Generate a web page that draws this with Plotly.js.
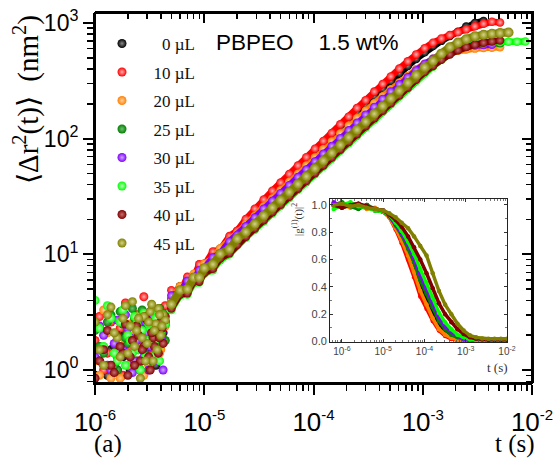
<!DOCTYPE html>
<html><head><meta charset="utf-8">
<script src="https://cdn.plot.ly/plotly-3.0.1.min.js"></script>
<style>html,body{margin:0;padding:0;background:#fff}#chart{width:553px;height:459px}</style>
</head><body><div id="chart"></div>
<script>
// ---------- DATA ----------
const seriesNames = ['\u00a0\u00a00 \u00b5L','10 \u00b5L','20 \u00b5L','25 \u00b5L','30 \u00b5L','35 \u00b5L','40 \u00b5L','45 \u00b5L'];
const seriesColors = ['#000000','#ff0000','#ff8000','#007f00','#8000ff','#00ff00','#800000','#808000'];
const seriesHighlights = ['#8a8a8a','#ffb0b0','#ffd0a0','#70c070','#d0a8ff','#b8ffb8','#c87070','#d4d488'];

// MSD: early noisy lag times (s)
const t_noise = [1.0e-6,1.2e-6,1.4e-6,1.6e-6,1.8e-6,2.0e-6,2.2e-6,2.4e-6,2.6e-6,2.8e-6,3.0e-6,3.2e-6,3.4e-6,3.6e-6,3.8e-6,4.0e-6,4.2e-6,4.4e-6,
                 1.1e-6,1.3e-6,1.5e-6,1.7e-6,1.9e-6,2.1e-6,2.3e-6,2.5e-6,2.7e-6,2.9e-6,3.1e-6,3.3e-6,3.5e-6,3.7e-6,3.9e-6,4.1e-6];
const msd_noise_0  = [0.9,1.1,1.5,1.0,1.3,1.8,1.2,1.6,1.0,2.0,1.4,1.7,2.2,1.1,1.9,2.4,2.1,2.6, 1.2,0.9,1.6,1.3,2.1,1.0,1.5,1.8,1.2,2.3,1.6,1.9,1.4,2.5,2.0,2.8];
const msd_noise_10 = [1.8,1.0,2.6,1.3,0.9,2.1,1.5,3.0,1.2,4.3,1.7,2.4,1.4,2.9,1.9,3.3,2.3,3.6, 2.9,1.4,1.1,2.3,3.8,1.6,2.0,1.2,2.6,1.8,3.1,2.2,1.5,2.7,3.4,2.5];
const msd_noise_20 = [1.2,3.3,0.85,1.9,2.7,1.1,2.2,1.5,3.0,0.9,2.0,1.3,2.6,1.7,3.1,1.5,2.8,2.4, 0.9,2.1,1.4,0.85,1.8,2.5,1.2,2.0,1.6,2.9,1.1,2.3,1.9,2.6,1.4,3.0];
const msd_noise_25 = [2.2,1.4,3.0,1.0,2.5,1.7,3.4,1.2,2.1,2.9,1.6,3.2,2.4,1.3,2.7,2.0,3.1,1.8, 1.6,2.6,1.1,3.2,1.9,1.3,2.8,1.5,3.3,1.8,2.4,1.2,2.9,2.1,3.4,1.9];
const msd_noise_30 = [1.3,2.0,1.0,2.7,1.5,2.3,0.95,1.8,2.6,1.3,2.1,1.6,2.9,1.2,2.4,1.9,1.0,2.5, 2.4,1.1,1.7,1.3,3.0,1.9,1.2,2.2,1.5,2.6,1.0,1.9,2.3,1.4,2.7,2.1];
const msd_noise_35 = [4.0,1.6,2.8,1.2,3.3,2.0,1.4,2.5,1.0,3.1,1.8,2.3,1.3,2.8,1.6,2.1,3.0,2.5, 2.3,3.6,1.4,2.6,1.1,1.8,2.9,1.5,2.2,1.3,2.5,3.2,1.7,2.0,1.2,2.6];
const msd_noise_40 = [0.85,1.5,1.1,2.0,1.4,0.9,1.8,2.4,1.2,1.6,2.7,1.0,1.9,2.2,1.4,2.6,1.7,2.9, 1.2,2.2,0.95,1.6,2.5,1.3,1.1,2.0,1.5,2.9,1.3,2.1,1.6,2.4,1.9,2.3];
const msd_noise_45 = [2.6,1.1,3.5,1.9,2.8,1.4,3.9,2.2,0.85,2.9,1.7,3.2,1.2,2.5,3.4,2.0,3.0,2.7, 1.5,3.0,2.1,1.3,3.6,2.4,1.6,2.8,1.9,1.2,2.6,3.7,2.2,1.5,3.0,2.4];

// MSD: later lag times (s)
const t_curve = [5.0e-6,6.0e-6,7.0e-6,8.0e-6,9.0e-6,1.0e-5,1.2e-5,1.4e-5,1.7e-5,2.0e-5,2.4e-5,2.9e-5,3.5e-5,4.2e-5,5.0e-5,6.0e-5,7.2e-5,8.6e-5,1.03e-4,1.23e-4,1.47e-4,1.76e-4,2.1e-4,2.5e-4,3.0e-4,3.6e-4,4.3e-4,5.1e-4,6.1e-4,7.3e-4,8.7e-4,1.04e-3,1.24e-3,1.48e-3,1.77e-3,2.1e-3,2.5e-3,3.0e-3,3.6e-3,4.3e-3,5.1e-3,6.1e-3,7.3e-3,8.7e-3];
const msd_0  = [4.1,5.3,5.5,6.6,7.0,8.3,9.3,11.2,13.0,15.9,18.7,22.5,27.1,32.2,37.9,45.0,53.3,62.9,74.5,86.9,102,121,141,167,196,232,270,314,367,424,489,557,631,700,770,840,930,1000,1040];
const msd_10 = [4.9,4.6,6.4,6.3,8.2,8.0,10.6,11.0,14.4,16.0,20.2,24.8,29.8,35.4,41.7,49.5,58.6,69.2,81.9,95.6,112,133,155,184,215,255,297,345,403,466,535,605,675,735,785,832,880,935,985,1025,1010];
const msd_20 = [4.0,5.3,5.4,6.8,7.0,8.3,9.2,11.3,13.2,15.2,18.3,21.5,25.9,30.4,35.8,42.5,49.8,58.7,68.7,81.1,94.6,111,129,150,174,202,233,267,305,348,397,443,490,525,556,575,589,600,607,611,617];
const msd_25 = [3.5,4.7,4.8,6.0,6.1,7.2,7.9,9.6,11.0,12.7,14.9,17.5,20.6,24.2,28.1,32.9,38.7,45.1,52.7,61.5,71.8,84.1,98.0,114,134,157,182,212,247,289,338,394,445,505,560,600,630,650,660,665,668];
const msd_30 = [4.4,4.7,5.9,6.0,7.3,7.6,9.4,10.2,12.9,14.7,17.5,20.8,24.8,29.0,33.8,39.6,46.5,54.2,63.4,74.0,86.3,101,118,137,161,188,220,255,295,339,389,442,490,537,575,603,624,638,646,649];
const msd_35 = [3.3,4.4,4.5,5.6,5.7,6.8,7.3,8.9,10.0,11.9,13.9,16.3,19.2,22.5,26.2,30.7,36.1,42.1,49.2,57.4,67.0,78.5,91.4,106,125,146,170,198,231,270,315,368,419,480,540,590,630,660,675,683,686,688,688,690];
const msd_40 = [3.4,4.5,4.6,5.8,5.8,6.9,7.5,9.2,10.2,12.1,14.2,16.7,19.7,23.1,26.8,31.5,36.9,43.0,50.3,58.7,68.6,80.3,93.6,109,128,150,174,202,236,276,323,376,425,480,535,580,620,650,675,693,705];
const msd_45 = [3.7,4.9,5.0,6.3,6.3,7.6,8.2,10.1,11.1,13.6,15.6,18.3,21.6,25.3,29.4,34.5,40.5,47.2,55.2,64.4,75.2,88.1,102.6,119.4,140,164,191,222,259,303,354,413,470,543,617,676,724,767,791,807,818,828];

// Inset: |g1(t)|^2
const t_g = [6.3e-7,1.0e-6,1.6e-6,2.5e-6,4.0e-6,6.3e-6,1.0e-5,1.4e-5,2.0e-5,2.8e-5,4.0e-5,5.6e-5,7.9e-5,1.12e-4,1.58e-4,2.24e-4,3.16e-4,4.47e-4,6.3e-4,8.9e-4,1.26e-3,1.78e-3,2.5e-3,3.55e-3,5.0e-3,7.1e-3,1.0e-2];
const g_0  = [1.01,0.98,1.0,0.99,1.0,0.96,0.95,0.92,0.84,0.76,0.66,0.54,0.41,0.30,0.20,0.11,0.06,0.03,0.015,0.008,0.004,0.003,0.002,0.002,0.002,0.002,0.002];
const g_10 = [1.0,0.99,1.01,0.98,0.99,0.97,0.95,0.91,0.82,0.72,0.60,0.47,0.33,0.24,0.15,0.08,0.04,0.018,0.008,0.004,0.002,0.001,0.001,0.0,0.0,0.0,0.0];
const g_20 = [0.99,1.0,0.98,1.0,0.97,0.98,0.95,0.91,0.83,0.74,0.63,0.51,0.37,0.27,0.17,0.09,0.05,0.025,0.012,0.006,0.003,0.002,0.001,0.001,0.001,0.001,0.001];
const g_25 = [1.0,1.02,0.99,0.97,1.0,0.97,0.95,0.92,0.85,0.78,0.68,0.58,0.45,0.35,0.25,0.15,0.09,0.05,0.03,0.015,0.008,0.005,0.004,0.003,0.003,0.003,0.003];
const g_30 = [1.02,0.99,1.0,1.01,0.98,0.97,0.96,0.92,0.86,0.79,0.71,0.61,0.49,0.39,0.29,0.18,0.11,0.07,0.04,0.02,0.01,0.006,0.005,0.004,0.004,0.004,0.004];
const g_35 = [0.97,1.0,1.02,0.99,0.98,0.96,0.95,0.93,0.87,0.81,0.73,0.64,0.53,0.43,0.32,0.21,0.14,0.09,0.05,0.03,0.015,0.01,0.008,0.007,0.007,0.007,0.007];
const g_40 = [1.0,0.98,1.0,1.01,0.99,0.97,0.96,0.93,0.89,0.84,0.77,0.69,0.60,0.50,0.39,0.28,0.20,0.14,0.09,0.055,0.03,0.02,0.014,0.012,0.012,0.012,0.012];
const g_45 = [1.0,1.01,0.99,1.0,0.98,0.97,0.96,0.94,0.91,0.87,0.83,0.77,0.70,0.63,0.50,0.37,0.27,0.20,0.13,0.08,0.045,0.03,0.022,0.02,0.02,0.02,0.02];

// Tick labels
const xMainTicks = [1e-6,1e-5,1e-4,1e-3,1e-2];
const xMainText = ['10<sup><span style="font-size:15px">-6</span></sup>','10<sup><span style="font-size:15px">-5</span></sup>',
                   '10<sup><span style="font-size:15px">-4</span></sup>','10<sup><span style="font-size:15px">-3</span></sup>',
                   '10<sup><span style="font-size:15px">-2</span></sup>'];
const xInsetText = ['10<sup>-6</sup>','10<sup>-5</sup>','10<sup>-4</sup>','10<sup>-3</sup>','10<sup>-2</sup>'];
const yMainTicks = [1,10,100,1000];
const yMainText = ['10<sup>0</sup>','10<sup>1</sup>','10<sup>2</sup>','10<sup>3</sup>'];
const yInsetTicks = [0,0.2,0.4,0.6,0.8,1.0];
const yInsetText = ['0.0','0.2','0.4','0.6','0.8','1.0'];

// ---------- BUILD ----------
const noiseSets = [msd_noise_0,msd_noise_10,msd_noise_20,msd_noise_25,msd_noise_30,msd_noise_35,msd_noise_40,msd_noise_45];
const curveSets = [msd_0,msd_10,msd_20,msd_25,msd_30,msd_35,msd_40,msd_45];
const gSets = [g_0,g_10,g_20,g_25,g_30,g_35,g_40,g_45];

function minorLog(e0, e1, lo, hi){
  const v=[];
  for(let e=e0;e<=e1;e++){for(let k=2;k<=9;k++){const x=k*Math.pow(10,e); if(x>=lo&&x<=hi) v.push(x);}}
  return v;
}
const xMinor = minorLog(-6,-3,1e-6,1e-2);
const yMinor = [0.8,0.9].concat(minorLog(0,2,1,1220));
const xInsetMinor = minorLog(-7,-3,5.2e-7,1e-2);

const traces = [];
const serif = 'Liberation Serif';
const sans = 'Liberation Sans';

for(let i=0;i<8;i++){
  traces.push({
    type:'scatter', mode:'markers', x:t_noise, y:noiseSets[i], name:seriesNames[i],
    legendgroup:'g'+i, showlegend:true,
    marker:{size:9, color:seriesColors[i], line:{width:0}, gradient:{type:'radial', color:seriesHighlights[i]}},
    xaxis:'x', yaxis:'y', hoverinfo:'skip'
  });
}
for(let i=0;i<8;i++){
  const y = curveSets[i];
  const last = (i===7);
  traces.push({
    type:'scatter', mode:'lines+markers', x:t_curve.slice(0,y.length), y:y, name:seriesNames[i],
    legendgroup:'g'+i, showlegend:false,
    line:{color:seriesColors[i], width:last?8:6.5},
    marker:{size:last?10:8.5, color:seriesColors[i], line:{width:0}, gradient:{type:'radial', color:seriesHighlights[i]}},
    // last series sits on the twin frame axes (same domain and ranges as x/y)
    xaxis:last?'x3':'x', yaxis:last?'y3':'y', hoverinfo:'skip'
  });
}
for(let i=0;i<8;i++){
  traces.push({
    type:'scatter', mode:'lines+markers', x:t_g, y:gSets[i], showlegend:false,
    line:{color:seriesColors[i], width:3.5},
    marker:{size:4.5, color:seriesColors[i]},
    xaxis:'x2', yaxis:'y2', hoverinfo:'skip'
  });
}

const axCommon = {showgrid:false, zeroline:false, color:'#000'};

const layout = {
  width:553, height:459,
  margin:{l:95, r:21, t:13, b:76},
  paper_bgcolor:'#fff', plot_bgcolor:'rgba(0,0,0,0)',
  showlegend:true,
  legend:{x:-0.0103, y:0.965, xanchor:'left', yanchor:'top', bgcolor:'rgba(0,0,0,0)',
          font:{family:serif, size:17, color:'#111'}, itemwidth:53, tracegroupgap:3.4, itemsizing:'trace'},
  xaxis:Object.assign({}, axCommon, {
    type:'log', range:[-6,-2], domain:[0,1], anchor:'y',
    tickmode:'array', tickvals:xMainTicks, ticktext:xMainText,
    ticks:'outside', ticklen:10, tickwidth:2, tickcolor:'#000',
    showline:true, linewidth:2, linecolor:'#000', mirror:false,
    tickfont:{family:sans, size:26, color:'#000'}, ticklabelstandoff:5, ticklabeloverflow:'allow',
    minor:{tickmode:'array', tickvals:xMinor, ticks:'outside', ticklen:6, tickwidth:1.5, tickcolor:'#000', showgrid:false}
  }),
  yaxis:Object.assign({}, axCommon, {
    type:'log', range:[-0.112,3.086], domain:[0,1], anchor:'x',
    tickmode:'array', tickvals:yMainTicks, ticktext:yMainText,
    ticks:'outside', ticklen:10, tickwidth:2, tickcolor:'#000',
    showline:true, linewidth:2, linecolor:'#000', mirror:false,
    tickfont:{family:sans, size:23, color:'#000'},
    minor:{tickmode:'array', tickvals:yMinor, ticks:'outside', ticklen:6, tickwidth:1.5, tickcolor:'#000', showgrid:false}
  }),
  xaxis3:Object.assign({}, axCommon, {
    type:'log', range:[-6,-2], domain:[0,1], side:'top', anchor:'y3',
    tickmode:'array', tickvals:xMainTicks, ticktext:['','','','',''],
    ticks:'inside', ticklen:10, tickwidth:2, tickcolor:'#000',
    showline:true, linewidth:2, linecolor:'#000',
    minor:{tickmode:'array', tickvals:xMinor, ticks:'inside', ticklen:6, tickwidth:1.5, tickcolor:'#000', showgrid:false}
  }),
  yaxis3:Object.assign({}, axCommon, {
    type:'log', range:[-0.112,3.086], domain:[0,1], side:'right', anchor:'x3',
    tickmode:'array', tickvals:yMainTicks, ticktext:['','','',''],
    ticks:'inside', ticklen:10, tickwidth:2, tickcolor:'#000',
    showline:true, linewidth:2, linecolor:'#000',
    minor:{tickmode:'array', tickvals:yMinor, ticks:'inside', ticklen:6, tickwidth:1.5, tickcolor:'#000', showgrid:false}
  }),
  xaxis2:Object.assign({}, axCommon, {
    type:'log', range:[-6.29,-2], domain:[0.5378,0.9428], anchor:'y2',
    tickmode:'array', tickvals:xMainTicks, ticktext:xInsetText,
    ticks:'inside', ticklen:3, tickwidth:1, tickcolor:'#333',
    showline:true, linewidth:1, linecolor:'#222', mirror:'allticks',
    tickfont:{family:sans, size:10, color:'#444'},
    minor:{tickmode:'array', tickvals:xInsetMinor, ticks:'inside', ticklen:2, tickwidth:0.8, tickcolor:'#555', showgrid:false}
  }),
  yaxis2:Object.assign({}, axCommon, {
    range:[-0.004,1.044], domain:[0.1108,0.4973], anchor:'x2',
    tickmode:'array', tickvals:yInsetTicks, ticktext:yInsetText,
    ticks:'inside', ticklen:3, tickwidth:1, tickcolor:'#333',
    showline:true, linewidth:1, linecolor:'#222', mirror:'allticks',
    tickfont:{family:sans, size:11, color:'#444'},
    minor:{tickmode:'array', tickvals:[0.1,0.3,0.5,0.7,0.9], ticks:'inside', ticklen:2, tickwidth:0.8, tickcolor:'#555', showgrid:false}
  }),
  shapes:[
    {type:'rect', xref:'paper', yref:'paper', x0:0, x1:1, y0:0, y1:1, line:{color:'#000', width:2}, fillcolor:'rgba(0,0,0,0)', layer:'above'}
  ],
  annotations:[
    {text:'\u27e8\u0394r<sup>2</sup>(t)\u27e9\u00a0\u00a0(nm<sup>2</sup>)', xref:'paper', yref:'paper', x:-0.1556, y:0.765,
     xanchor:'center', yanchor:'middle', textangle:-90, showarrow:false, font:{family:serif, size:29, color:'#000'}},
    {text:'t (s)', xref:'paper', yref:'paper', x:0.961, y:-0.164, xanchor:'center', yanchor:'middle', showarrow:false,
     font:{family:serif, size:25, color:'#000'}},
    {text:'(a)', xref:'paper', yref:'paper', x:0.0297, y:-0.164, xanchor:'center', yanchor:'middle', showarrow:false,
     font:{family:serif, size:25, color:'#000'}},
    {text:'PBPEO\u00a0\u00a0\u00a0\u00a01.5 wt%', xref:'paper', yref:'paper', x:0.4863, y:0.9216, xanchor:'center', yanchor:'middle', showarrow:false,
     font:{family:sans, size:22.5, color:'#000'}},
    {text:'|g<sup>(1)</sup>(t)|<sup>2</sup>', xref:'paper', yref:'paper', x:0.4622, y:0.443, xanchor:'center', yanchor:'middle', textangle:-90, showarrow:false,
     font:{family:serif, size:11, color:'#333'}},
    {text:'t (s)', xref:'paper', yref:'paper', x:0.92, y:0.0432, xanchor:'center', yanchor:'middle', showarrow:false,
     font:{family:serif, size:13, color:'#333'}}
  ]
};

Plotly.newPlot('chart', traces, layout, {staticPlot:true, displayModeBar:false});
</script></body></html>
